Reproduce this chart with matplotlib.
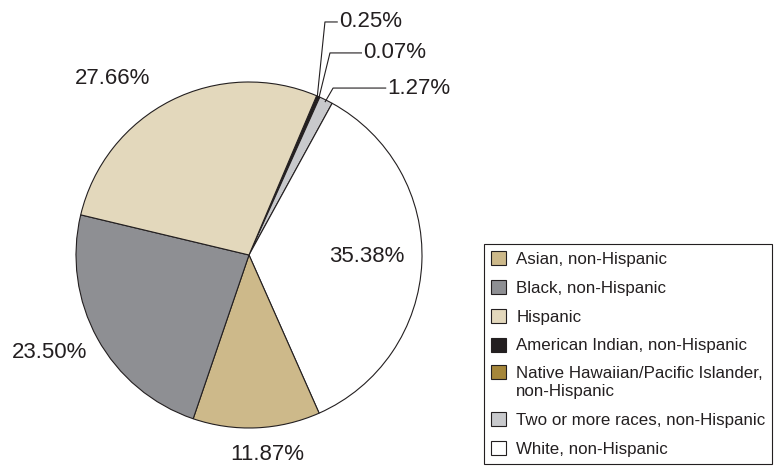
import matplotlib.pyplot as plt
import numpy as np
from matplotlib.patches import Patch, Rectangle
from matplotlib.legend_handler import HandlerPatch

plt.rcParams["font.family"] = ["Liberation Sans", "DejaVu Sans"]

# slices in drawing order (clockwise from the top boundary)
groups = [
    "American Indian, non-Hispanic",
    "Native Hawaiian/Pacific Islander,\nnon-Hispanic",
    "Two or more races, non-Hispanic",
    "White, non-Hispanic",
    "Asian, non-Hispanic",
    "Black, non-Hispanic",
    "Hispanic",
]
shares = [0.25, 0.07, 1.27, 35.38, 11.87, 23.50, 27.66]
colors = ["#231f20", "#a5863a", "#c8c9cc", "#ffffff", "#cdb98a", "#8e8f93", "#e3d8bc"]

legend_order = [4, 5, 6, 0, 1, 2, 3]

# label placement (axes data units, pie radius = 1)
big_label_pos = {3: (0.68, -0.006), 4: (0.104, -1.156), 5: (-1.15, -0.566), 6: (-0.786, 1.023)}
small_elbow = {0: (0.439, 1.347), 1: (0.468, 1.168), 2: (0.486, 0.965)}
small_text_x = {0: 0.52, 1: 0.66, 2: 0.80}

ink = "#231f20"


class TopLineHandler(HandlerPatch):
    """Square handle aligned with the first line of a two-line label."""

    def __init__(self, shift, **kw):
        super().__init__(**kw)
        self.shift = shift

    def create_artists(self, legend, orig_handle, xdescent, ydescent, width, height, fontsize, trans):
        p = Rectangle((-xdescent, -ydescent + self.shift), width, height)
        self.update_prop(p, orig_handle, legend)
        p.set_transform(trans)
        return [p]


fig = plt.figure(figsize=(7.79, 4.68), dpi=100)
ax = fig.add_axes([76 / 779, 40 / 468, 346 / 779, 346 / 468])

wedges, _ = ax.pie(shares, colors=colors, startangle=67, counterclock=False, radius=1,
                   wedgeprops=dict(edgecolor=ink, linewidth=0.8))
ax.set_xlim(-1, 1)
ax.set_ylim(-1, 1)
ax.set_aspect("equal")
ax.axis("off")

for i, (w, v) in enumerate(zip(wedges, shares)):
    label = f"{v:.2f}%"
    if i in big_label_pos:
        x, y = big_label_pos[i]
        ax.text(x, y, label, ha="center", va="center", fontsize=16, color=ink, clip_on=False)
    else:
        mid = np.deg2rad((w.theta1 + w.theta2) / 2)
        sx, sy = 0.99 * np.cos(mid), 0.99 * np.sin(mid)
        ex, ey = small_elbow[i]
        tx = small_text_x[i]
        ax.plot([sx, ex, tx - 0.01], [sy, ey, ey], color=ink, linewidth=0.8, clip_on=False)
        ax.text(tx, ey, label, ha="left", va="center", fontsize=16, color=ink, clip_on=False)

handles = [Patch(facecolor=colors[i], edgecolor=ink, linewidth=0.8) for i in legend_order]
labels = [groups[i] for i in legend_order]
handler_map = {handles[4]: TopLineHandler(shift=11 * 72 / 100)}
leg = fig.legend(handles, labels, loc="upper left", bbox_to_anchor=(484 / 779, 1 - 244 / 468),
                 bbox_transform=fig.transFigure, borderaxespad=0, fontsize=12.2,
                 handlelength=0.9, handleheight=0.9, handletextpad=0.6, labelspacing=0.77,
                 borderpad=0.4, fancybox=False, framealpha=1, edgecolor=ink,
                 handler_map=handler_map)
leg.get_frame().set_linewidth(0.8)
for t in leg.get_texts():
    t.set_color(ink)

fig.savefig("out.png", dpi=100)
